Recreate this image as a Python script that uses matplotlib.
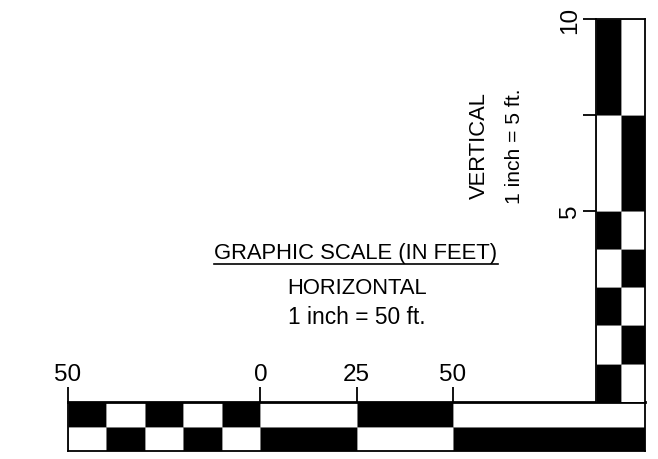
import matplotlib
matplotlib.use('Agg')
import matplotlib.pyplot as plt
from matplotlib.lines import Line2D

# Horizontal scale (feet): segment edges and fill of the top row
H_EDGES = [-50, -40, -30, -20, -10, 0, 25, 50, 100]
H_TOP_BLACK = [1, 0, 1, 0, 1, 0, 1, 0]
H_TICKS = [-50, 0, 25, 50]
H_TICKLABELS = ['50', '0', '25', '50']

# Vertical scale (feet): segment edges and fill of the left column
V_EDGES = [0, 1, 2, 3, 4, 5, 7.5, 10]
V_LEFT_BLACK = [1, 0, 1, 0, 1, 0, 1]
V_TICKS = [5, 7.5, 10]
V_TICKLABELS = ['5', '', '10']

FONT = ['Liberation Sans', 'DejaVu Sans']

W, H = 658, 460
fig = plt.figure(figsize=(W / 100, H / 100), dpi=100)

def px_axes(x0, y0, x1, y1):
    # axes box given in pixels, y measured from the top
    return fig.add_axes([x0 / W, (H - y1) / H, (x1 - x0) / W, (y1 - y0) / H])

def fill(b):
    return 'black' if b else 'white'

# --- horizontal bar ---
axh = px_axes(68, 403, 645, 452)
for i in range(len(H_EDGES) - 1):
    left = H_EDGES[i]
    width = H_EDGES[i + 1] - H_EDGES[i]
    axh.bar(left, 1, width, bottom=1, align='edge', color=fill(H_TOP_BLACK[i]),
            edgecolor='#888888', linewidth=0.5)
    axh.bar(left, 1, width, bottom=0, align='edge', color=fill(1 - H_TOP_BLACK[i]),
            edgecolor='#888888', linewidth=0.5)
axh.set_xlim(H_EDGES[0], H_EDGES[-1])
axh.set_ylim(0, 2)
axh.set_yticks([])
axh.xaxis.tick_top()
axh.set_xticks(H_TICKS)
axh.set_xticklabels(H_TICKLABELS, family=FONT, fontsize=17.5)
axh.tick_params(axis='x', direction='out', length=10.8, width=1.3, pad=1.5)
for s in axh.spines.values():
    s.set_linewidth(1.3)
axh.spines['top'].set_linewidth(2)

# --- vertical column ---
axv = px_axes(596, 20, 645, 403)
for i in range(len(V_EDGES) - 1):
    bot = V_EDGES[i]
    hgt = V_EDGES[i + 1] - V_EDGES[i]
    axv.bar(0, hgt, 1, bottom=bot, align='edge', color=fill(V_LEFT_BLACK[i]),
            edgecolor='#888888', linewidth=0.5)
    axv.bar(1, hgt, 1, bottom=bot, align='edge', color=fill(1 - V_LEFT_BLACK[i]),
            edgecolor='#888888', linewidth=0.5)
axv.set_xlim(0, 2)
axv.set_ylim(V_EDGES[0], V_EDGES[-1])
axv.set_xticks([])
axv.set_yticks(V_TICKS)
axv.set_yticklabels(V_TICKLABELS, family=FONT, fontsize=17.5, rotation=90, va='center')
axv.tick_params(axis='y', direction='out', length=9.4, width=1.3, pad=1.5)
for s in axv.spines.values():
    s.set_linewidth(1.3)
axv.spines['bottom'].set_visible(False)

# --- captions ---
title = fig.text(356 / W, (H - 253) / H, 'GRAPHIC SCALE (IN FEET)', family=FONT,
                 fontsize=15.8, ha='center', va='center')
fig.text(357 / W, (H - 288) / H, 'HORIZONTAL', family=FONT,
         fontsize=15.8, ha='center', va='center')
fig.text(357 / W, (H - 318) / H, '1 inch = 50 ft.', family=FONT,
         fontsize=16.4, ha='center', va='center')
fig.text(479 / W, (H - 146) / H, 'VERTICAL', family=FONT,
         fontsize=15.8, ha='center', va='center', rotation=90)
fig.text(514 / W, (H - 146) / H, '1 inch = 5 ft.', family=FONT,
         fontsize=15.2, ha='center', va='center', rotation=90)

# underline under the title, taken from its drawn extent
fig.canvas.draw()
bb = title.get_window_extent()
uy = (bb.y0 - 1) / H
fig.add_artist(Line2D([bb.x0 / W, bb.x1 / W], [uy, uy], color='black', linewidth=1.2))

fig.savefig('out.png', dpi=100)
